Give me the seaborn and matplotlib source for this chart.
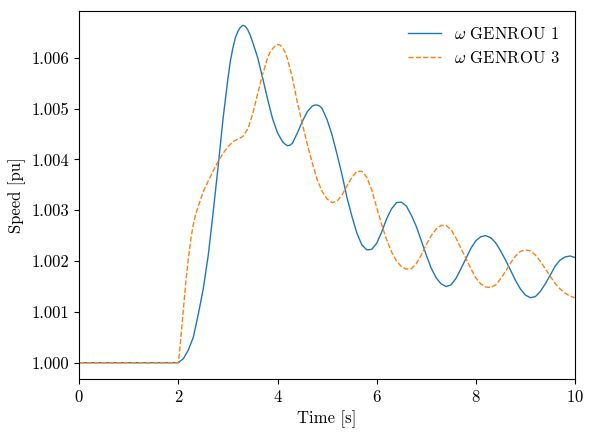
import matplotlib
matplotlib.use("Agg")
import matplotlib.pyplot as plt
import pandas as pd
import seaborn as sns

# values
t_gen1 = [0.0, 2.0, 2.1, 2.2, 2.3, 2.4, 2.5, 2.6, 2.7, 2.8, 2.9,
          3.0, 3.05, 3.1, 3.15, 3.2, 3.25, 3.3, 3.35, 3.4, 3.45, 3.5, 3.6, 3.7, 3.8, 3.9,
          4.0, 4.1, 4.15, 4.2, 4.25, 4.3, 4.4, 4.5, 4.6, 4.7, 4.75, 4.8, 4.85, 4.9,
          5.0, 5.1, 5.2, 5.3, 5.4, 5.5, 5.6, 5.7, 5.8, 5.9,
          6.0, 6.1, 6.2, 6.3, 6.4, 6.5, 6.6, 6.7, 6.8, 6.9,
          7.0, 7.1, 7.2, 7.3, 7.4, 7.5, 7.6, 7.7, 7.8, 7.9,
          8.0, 8.1, 8.2, 8.3, 8.4, 8.5, 8.6, 8.7, 8.8, 8.9,
          9.0, 9.1, 9.2, 9.3, 9.4, 9.5, 9.6, 9.7, 9.8, 9.9, 10.0]
w_gen1 = [1.00000, 1.00000, 1.00008, 1.00025, 1.00050, 1.00095, 1.00145, 1.00210, 1.00295, 1.00385, 1.00480,
          1.00560, 1.00595, 1.00620, 1.00640, 1.00652, 1.00660, 1.00664, 1.00662, 1.00655, 1.00644, 1.00630, 1.00600, 1.00560, 1.00518, 1.00480,
          1.00452, 1.00435, 1.00430, 1.00427, 1.00428, 1.00432, 1.00452, 1.00475, 1.00494, 1.00505, 1.00507, 1.00507, 1.00505, 1.00500,
          1.00478, 1.00448, 1.00410, 1.00370, 1.00325, 1.00288, 1.00255, 1.00232, 1.00222, 1.00223,
          1.00235, 1.00257, 1.00283, 1.00303, 1.00315, 1.00316, 1.00308, 1.00290, 1.00268, 1.00240,
          1.00212, 1.00186, 1.00167, 1.00155, 1.00150, 1.00153, 1.00166, 1.00185, 1.00205, 1.00225,
          1.00240, 1.00248, 1.00250, 1.00246, 1.00236, 1.00220, 1.00202, 1.00182, 1.00162, 1.00145,
          1.00133, 1.00128, 1.00130, 1.00140, 1.00155, 1.00172, 1.00190, 1.00202, 1.00208, 1.00210, 1.00207]

t_gen3 = [0.0, 2.0, 2.05, 2.1, 2.15, 2.2, 2.25, 2.3, 2.35, 2.4, 2.5, 2.6, 2.7, 2.8, 2.9,
          3.0, 3.1, 3.2, 3.3, 3.4, 3.5, 3.6, 3.7, 3.8, 3.85, 3.9, 3.95,
          4.0, 4.05, 4.1, 4.15, 4.2, 4.3, 4.4, 4.5, 4.6, 4.7, 4.8, 4.9,
          5.0, 5.1, 5.2, 5.3, 5.4, 5.5, 5.6, 5.7, 5.8, 5.9,
          6.0, 6.1, 6.2, 6.3, 6.4, 6.5, 6.6, 6.7, 6.8, 6.9,
          7.0, 7.1, 7.2, 7.3, 7.4, 7.5, 7.6, 7.7, 7.8, 7.9,
          8.0, 8.1, 8.2, 8.3, 8.4, 8.5, 8.6, 8.7, 8.8, 8.9,
          9.0, 9.1, 9.2, 9.3, 9.4, 9.5, 9.6, 9.7, 9.8, 9.9, 10.0]
w_gen3 = [1.00000, 1.00000, 1.00050, 1.00105, 1.00160, 1.00205, 1.00243, 1.00272, 1.00293, 1.00308, 1.00336, 1.00357, 1.00377, 1.00396, 1.00412,
          1.00425, 1.00435, 1.00440, 1.00445, 1.00460, 1.00490, 1.00530, 1.00568, 1.00600, 1.00611, 1.00618, 1.00623,
          1.00626, 1.00625, 1.00620, 1.00611, 1.00598, 1.00560, 1.00512, 1.00470, 1.00430, 1.00393, 1.00360, 1.00337,
          1.00322, 1.00315, 1.00318, 1.00330, 1.00348, 1.00365, 1.00376, 1.00377, 1.00365, 1.00340,
          1.00305, 1.00272, 1.00242, 1.00218, 1.00200, 1.00189, 1.00184, 1.00185, 1.00195, 1.00212,
          1.00232, 1.00250, 1.00263, 1.00270, 1.00270, 1.00262, 1.00245, 1.00225, 1.00205, 1.00185,
          1.00167, 1.00155, 1.00149, 1.00148, 1.00153, 1.00165, 1.00180, 1.00196, 1.00210, 1.00219,
          1.00222, 1.00220, 1.00212, 1.00200, 1.00185, 1.00170, 1.00156, 1.00145, 1.00137, 1.00131, 1.00128]

labels = [r"$\omega$ GENROU 1", r"$\omega$ GENROU 3"]

plt.rcParams["font.family"] = ["cmr10", "DejaVu Serif"]
plt.rcParams["mathtext.fontset"] = "cm"
plt.rcParams["axes.formatter.use_mathtext"] = True
plt.rcParams["font.size"] = 12

fig = plt.figure(figsize=(5.93, 4.36), dpi=100)
ax = fig.add_axes([0.1337, 0.130, 0.9696 - 0.1337, 0.9755 - 0.130])

df1 = pd.DataFrame({"t": t_gen1, "w": w_gen1})
df3 = pd.DataFrame({"t": t_gen3, "w": w_gen3})
sns.lineplot(data=df1, x="t", y="w", ax=ax, color="#1f77b4", linewidth=1.0, label=labels[0])
sns.lineplot(data=df3, x="t", y="w", ax=ax, color="#ff7f0e", linewidth=1.0, linestyle="--", label=labels[1])

ax.set_xlim(0, 10)
ax.set_ylim(0.999673, 1.006927)
ax.set_xticks([0, 2, 4, 6, 8, 10])
ax.set_yticks([1.000, 1.001, 1.002, 1.003, 1.004, 1.005, 1.006])
ax.set_yticklabels(["1.000", "1.001", "1.002", "1.003", "1.004", "1.005", "1.006"])
ax.set_xlabel("Time [s]")
ax.set_ylabel("Speed [pu]")
ax.legend(loc="upper right", frameon=False)

fig.savefig("out.png", dpi=100)
